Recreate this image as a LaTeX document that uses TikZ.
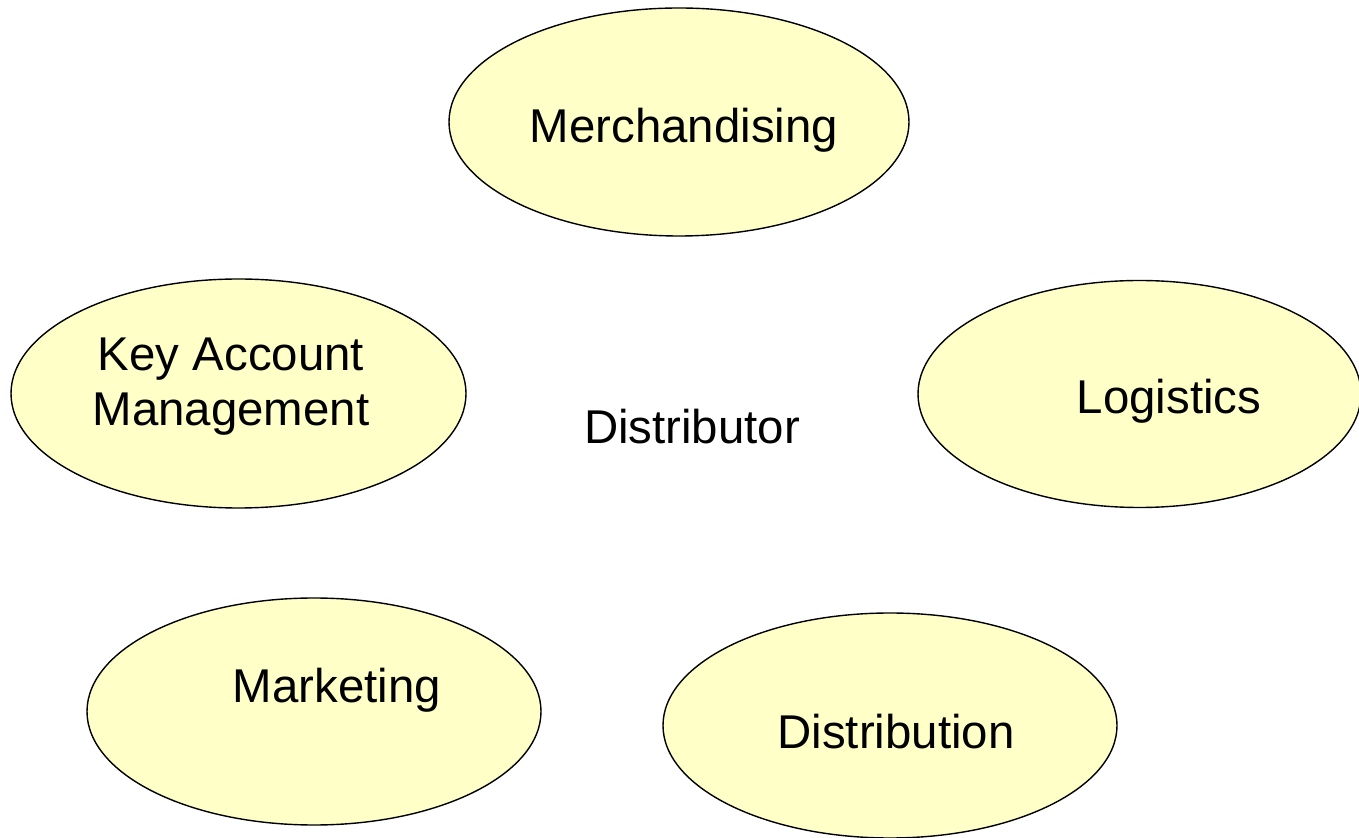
\documentclass[tikz,border=0pt]{standalone}
\usepackage{fontspec}
\setmainfont{Liberation Sans}
\usetikzlibrary{shapes.geometric}
\definecolor{bubble}{HTML}{FFFFC8}
\begin{document}
\begin{tikzpicture}[x=0.5pt,y=-0.5pt,
  bubblebox/.style={ellipse,draw=black,fill=bubble,line width=0.7pt,inner sep=0pt},
  label/.style={font=\fontsize{23.7}{27.5}\selectfont,inner sep=0pt,align=center}]
\useasboundingbox (0,0) rectangle (1359,838);
\node[bubblebox,minimum width=230pt,minimum height=114pt] (merchE) at (679,122) {};
\node[bubblebox,minimum width=227.5pt,minimum height=114.5pt] (kamE) at (238.5,393.5) {};
\node[bubblebox,minimum width=221.5pt,minimum height=113.5pt] (logE) at (1139.5,394) {};
\node[bubblebox,minimum width=227pt,minimum height=113.5pt] (markE) at (314,711.5) {};
\node[bubblebox,minimum width=227pt,minimum height=112.5pt] (distE) at (890,725.5) {};
\node[label,anchor=base] (merch) at (684,143) {Merchandising};
\node[label,anchor=center] (kam) at (231,386.5) {Key Account\\Management};
\node[label,anchor=base] (log) at (1169,414) {Logistics};
\node[label,anchor=base] (distor) at (692,444) {Distributor};
\node[label,anchor=base] (mark) at (337,702) {Marketing};
\node[label,anchor=base] (dist) at (896,748) {Distribution};
\end{tikzpicture}
\end{document}
